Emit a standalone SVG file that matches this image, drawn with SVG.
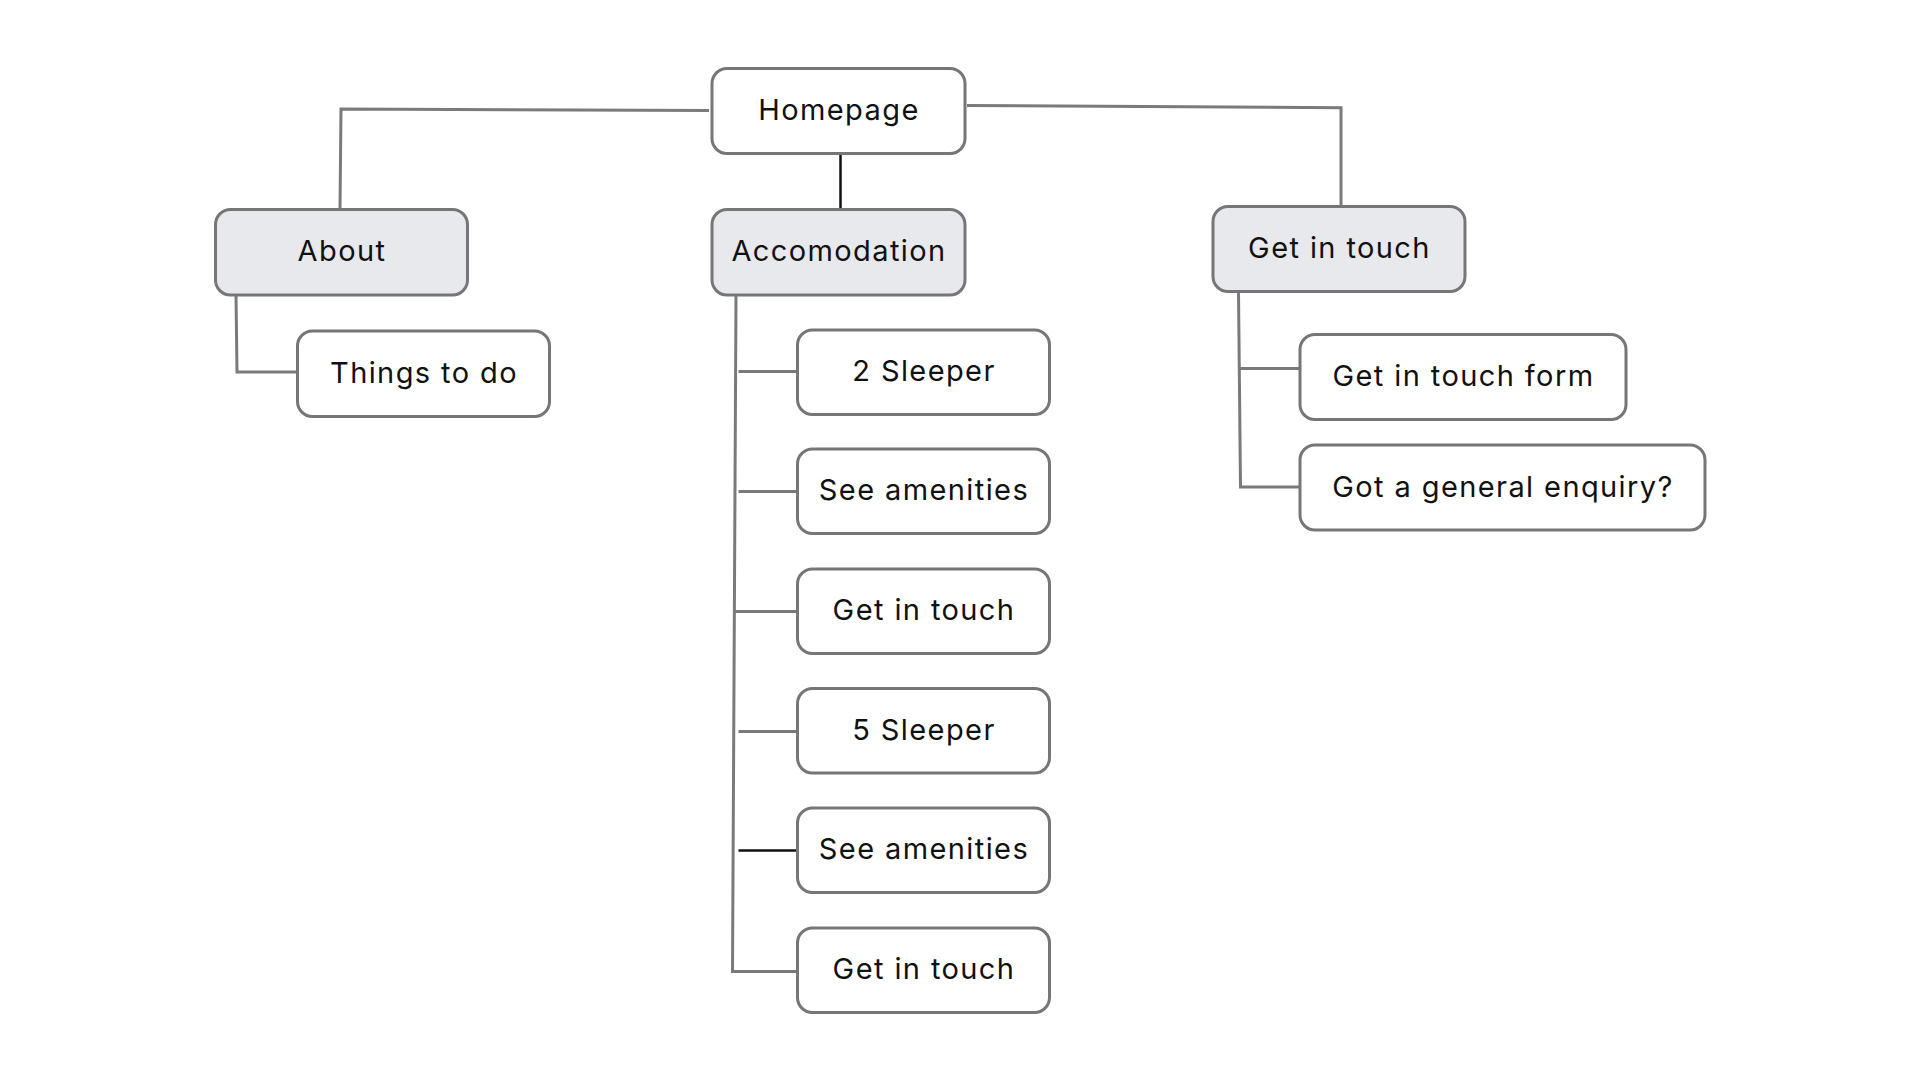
<svg xmlns="http://www.w3.org/2000/svg" width="1920" height="1080" viewBox="0 0 1920 1080">
<style>
.box{fill:#ffffff;stroke:#767676;stroke-width:3}
.hdr{fill:#e8e9ec;stroke:#767676;stroke-width:3}
.lbl{font-family:Inter,"Noto Sans",sans-serif;font-size:29px;letter-spacing:1.4px;fill:#111;text-anchor:middle;dominant-baseline:central}
.ln{fill:none;stroke:#7a7a7a;stroke-width:3}
.dk{fill:none;stroke:#111;stroke-width:2.5}
</style>
<rect width="1920" height="1080" fill="#ffffff"/>
<g id="connectors">
<path class="ln" d="M709,110.5 L341,109 L340,209"/>
<path class="dk" d="M840.5,153 L840.5,209"/>
<path class="ln" d="M967,105.5 L1341,107.7 L1341,206"/>
<path class="ln" d="M236,295 L237,372 L297,372"/>
<path class="ln" d="M736,295 L732.5,971.5 L797,971.5"/>
<path class="ln" d="M738.5,371.5 L797,371.5"/>
<path class="ln" d="M738.5,491.5 L797,491.5"/>
<path class="ln" d="M733,611.5 L797,611.5"/>
<path class="ln" d="M738.5,731.5 L797,731.5"/>
<path class="dk" d="M738.5,850.5 L797,850.5"/>
<path class="ln" d="M1238.5,292 L1240.5,487 L1300,487"/>
<path class="ln" d="M1239.5,368.5 L1300,368.5"/>
</g>
<g id="homepage"><rect class="box" x="712" y="68.5" width="253" height="85" rx="15"/><text class="lbl" x="839" y="109.5">Homepage</text></g>
<g id="about"><rect class="hdr" x="215.5" y="209.5" width="252" height="85.5" rx="15"/><text class="lbl" x="342" y="250.5">About</text></g>
<g id="accomodation"><rect class="hdr" x="712" y="209.5" width="253" height="85.5" rx="15"/><text class="lbl" x="839" y="250.5">Accomodation</text></g>
<g id="get-in-touch"><rect class="hdr" x="1213" y="206.5" width="252" height="85" rx="15"/><text class="lbl" x="1339.5" y="247.5">Get in touch</text></g>
<g id="things-to-do"><rect class="box" x="297.5" y="331" width="252" height="85.5" rx="15"/><text class="lbl" x="424" y="372">Things to do</text></g>
<g id="two-sleeper"><rect class="box" x="797.5" y="330" width="252" height="84.5" rx="15"/><text class="lbl" x="924" y="370.5">2 Sleeper</text></g>
<g id="see-amenities-1"><rect class="box" x="797.5" y="449" width="252" height="84.5" rx="15"/><text class="lbl" x="924" y="489.5">See amenities</text></g>
<g id="get-in-touch-1"><rect class="box" x="797.5" y="569" width="252" height="84.5" rx="15"/><text class="lbl" x="924" y="609.5">Get in touch</text></g>
<g id="five-sleeper"><rect class="box" x="797.5" y="688.5" width="252" height="84.5" rx="15"/><text class="lbl" x="924" y="729.5">5 Sleeper</text></g>
<g id="see-amenities-2"><rect class="box" x="797.5" y="808" width="252" height="84.5" rx="15"/><text class="lbl" x="924" y="848.5">See amenities</text></g>
<g id="get-in-touch-2"><rect class="box" x="797.5" y="928" width="252" height="84.5" rx="15"/><text class="lbl" x="924" y="968.5">Get in touch</text></g>
<g id="get-in-touch-form"><rect class="box" x="1300" y="334.5" width="326" height="85" rx="15"/><text class="lbl" x="1463.5" y="375.5">Get in touch form</text></g>
<g id="general-enquiry"><rect class="box" x="1300" y="445" width="405" height="85" rx="15"/><text class="lbl" x="1503" y="486">Got a general enquiry?</text></g>
</svg>
